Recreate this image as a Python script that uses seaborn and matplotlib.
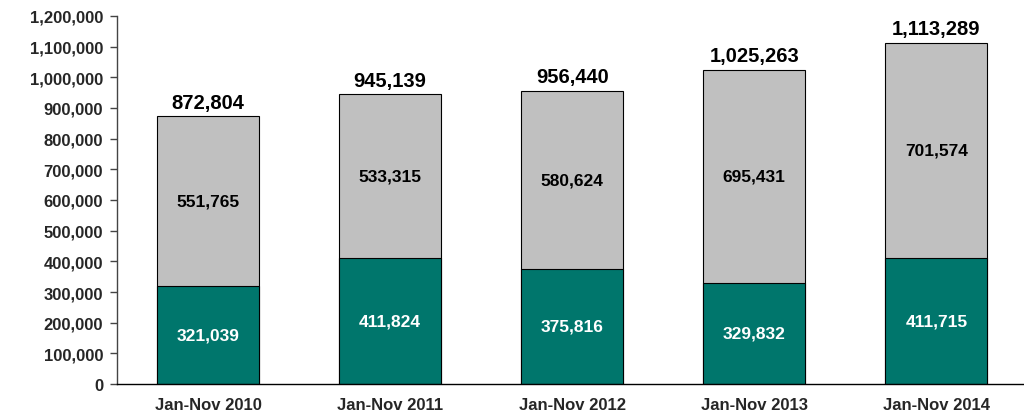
import matplotlib
matplotlib.use("Agg")
import matplotlib.pyplot as plt
import seaborn as sns
import pandas as pd
from matplotlib.ticker import FuncFormatter, MultipleLocator

periods = ["Jan-Nov 2010", "Jan-Nov 2011", "Jan-Nov 2012", "Jan-Nov 2013", "Jan-Nov 2014"]
lower_values = [321039, 411824, 375816, 329832, 411715]
upper_values = [551765, 533315, 580624, 695431, 701574]
totals = [a + b for a, b in zip(lower_values, upper_values)]

df = pd.DataFrame({"period": periods, "lower": lower_values,
                   "upper": upper_values, "total": totals})

sns.set_theme(style="white")
plt.rcParams["font.family"] = ["Liberation Sans", "DejaVu Sans"]
plt.rcParams["font.weight"] = "bold"

fig = plt.figure(figsize=(10.24, 4.14), dpi=100)
ax = fig.add_axes([0.1143, 0.070, 0.889, 0.889])

teal = "#00766C"
gray = "#C0C0C0"
bar_w = 0.56

# Full stack height in gray, lower segment in teal drawn over it
sns.barplot(data=df, x="period", y="total", color=gray, saturation=1,
            width=bar_w, edgecolor="black", linewidth=0.8, ax=ax)
sns.barplot(data=df, x="period", y="lower", color=teal, saturation=1,
            width=bar_w, edgecolor="black", linewidth=0.8, ax=ax)

fmt = lambda v: f"{v:,.0f}"
for i, (lo, up, tot) in enumerate(zip(lower_values, upper_values, totals)):
    ax.text(i, lo / 2, fmt(lo), ha="center", va="center", color="white",
            fontsize=12.5, fontweight="bold")
    ax.text(i, lo + up / 2, fmt(up), ha="center", va="center", color="black",
            fontsize=12.5, fontweight="bold")
    ax.text(i, tot + 14000, fmt(tot), ha="center", va="bottom", color="black",
            fontsize=14.5, fontweight="bold")

ax.set_xlim(-0.5, 4.5)
ax.set_ylim(0, 1200000)
ax.yaxis.set_major_locator(MultipleLocator(100000))
ax.yaxis.set_major_formatter(FuncFormatter(lambda v, p: f"{v:,.0f}"))
ax.set_xlabel("")
ax.set_ylabel("")

for s in ["top", "right"]:
    ax.spines[s].set_visible(False)
ax.spines["left"].set_color("#444444")
ax.spines["left"].set_linewidth(1.0)
ax.spines["bottom"].set_color("black")
ax.spines["bottom"].set_linewidth(1.0)

ax.tick_params(axis="y", which="major", left=True, length=5, width=1,
               color="#444444", labelsize=12, pad=5)
ax.tick_params(axis="x", bottom=False, labelsize=12, pad=3)
for lbl in ax.get_xticklabels() + ax.get_yticklabels():
    lbl.set_fontweight("bold")

fig.savefig("out.png", dpi=100)
